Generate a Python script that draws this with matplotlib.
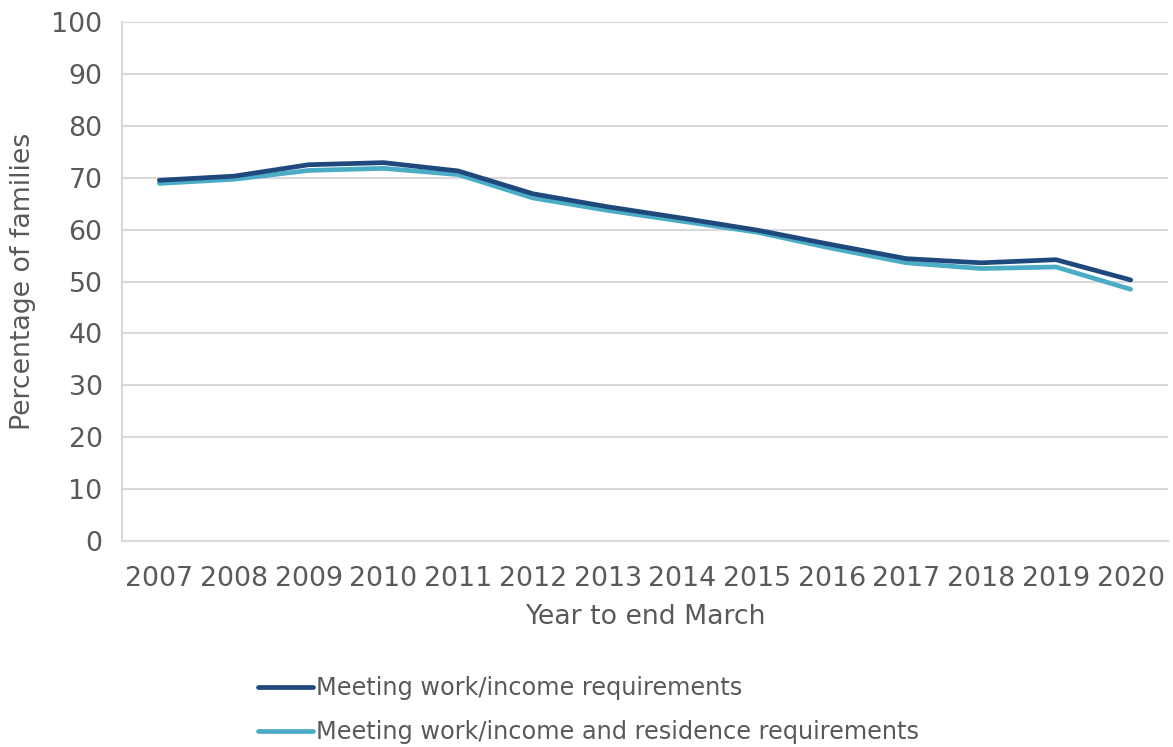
import matplotlib
matplotlib.use("Agg")
import matplotlib.pyplot as plt

years = ["2007", "2008", "2009", "2010", "2011", "2012", "2013",
         "2014", "2015", "2016", "2017", "2018", "2019", "2020"]
work_income = [69.5, 70.3, 72.5, 72.9, 71.3, 66.9, 64.4,
               62.2, 59.9, 57.1, 54.4, 53.6, 54.2, 50.3]
work_income_residence = [68.9, 69.7, 71.4, 71.8, 70.6, 66.1, 63.7,
                         61.6, 59.5, 56.4, 53.6, 52.5, 52.8, 48.5]
y_ticks = list(range(0, 101, 10))

text_color = "#595959"
grid_color = "#d9d9d9"
dark_blue = "#1f497d"
light_blue = "#4bacc6"

plt.rcParams["font.family"] = ["DejaVu Sans"]

fig = plt.figure(figsize=(11.73, 7.47), dpi=100)
ax = fig.add_axes([122 / 1173, 1 - 541 / 747, (1168 - 122) / 1173, (541 - 22) / 747])

x = list(range(len(years)))
l1, = ax.plot(x, work_income, color=dark_blue, lw=3.4, solid_capstyle="round",
              label="Meeting work/income requirements", zorder=3)
l2, = ax.plot(x, work_income_residence, color=light_blue, lw=3.4, solid_capstyle="round",
              label="Meeting work/income and residence requirements", zorder=2)

ax.set_xlim(-0.5, len(years) - 0.5)
ax.set_ylim(0, 100)
ax.set_yticks(y_ticks)
ax.set_xticks(x)
ax.set_xticklabels(years)
ax.yaxis.grid(True, color=grid_color, lw=1.5)
ax.set_axisbelow(True)

for side in ("top", "right"):
    ax.spines[side].set_visible(False)
for side in ("left", "bottom"):
    ax.spines[side].set_color(grid_color)
    ax.spines[side].set_linewidth(1.5)

ax.tick_params(axis="both", length=0, labelsize=19.3, colors=text_color)
ax.tick_params(axis="y", pad=14)
ax.tick_params(axis="x", pad=18)

ax.set_xlabel("Year to end March", fontsize=19.3, color=text_color, labelpad=9)
ax.set_ylabel("Percentage of families", fontsize=19.3, color=text_color, labelpad=11)

fig.legend(handles=[l1, l2], loc="upper left",
           bbox_to_anchor=(246 / 1173, 1 - 664 / 747),
           frameon=False, fontsize=17.3, labelcolor=text_color, borderpad=0,
           handlelength=2.3, handletextpad=0.1, labelspacing=0.85)

fig.savefig("out.png", dpi=100, facecolor="white")
